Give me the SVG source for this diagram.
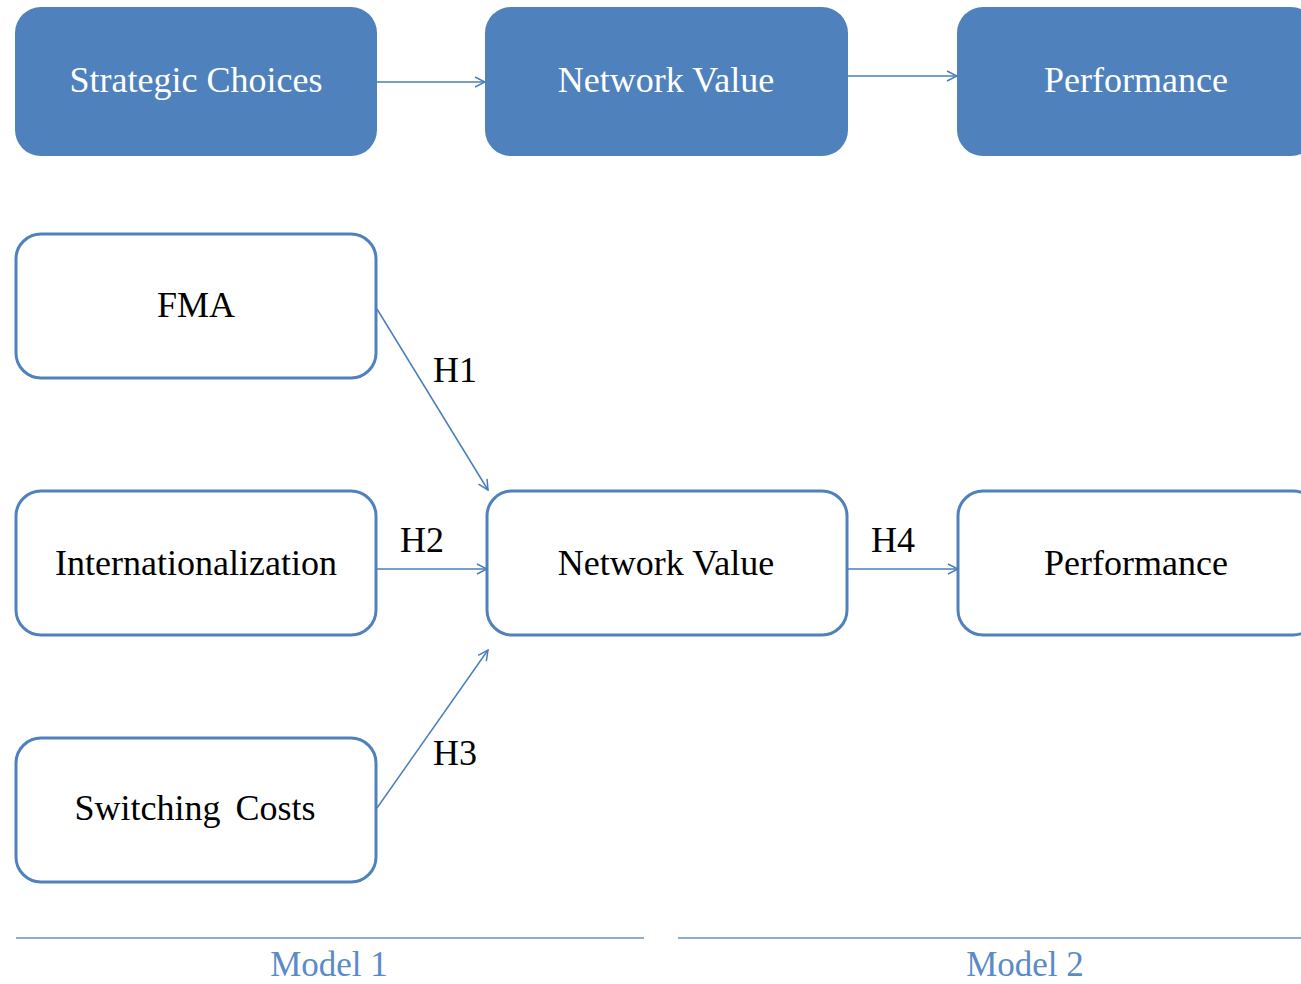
<svg xmlns="http://www.w3.org/2000/svg" width="1301" height="984" viewBox="0 0 1301 984">
  <style>
    .solid { fill: #4F81BD; stroke: none; }
    .outline { fill: #FFFFFF; stroke: #4F81BD; stroke-width: 3; }
    .label { font-family: "Liberation Serif", "Times New Roman", serif; font-size: 36px; text-anchor: middle; }
    .light { fill: #FFFFFF; }
    .dark { fill: #000000; }
    .hyp { font-family: "Liberation Serif", "Times New Roman", serif; font-size: 36px; fill: #000000; }
    .model { font-family: "Liberation Serif", "Times New Roman", serif; font-size: 35px; fill: #5B8BC6; text-anchor: middle; }
    .conn { fill: none; stroke: #4A7EBB; stroke-width: 1.5; marker-end: url(#open-arrow); }
    .rule { stroke: #8EAAD6; stroke-width: 2; }
  </style>
  <defs>
    <marker id="open-arrow" viewBox="0 0 12 12" refX="11" refY="6" markerWidth="12" markerHeight="12" markerUnits="userSpaceOnUse" orient="auto">
      <path d="M1,1 L11,6 L1,11" fill="none" stroke="#4A7EBB" stroke-width="1.5"/>
    </marker>
  </defs>

  <rect width="1301" height="984" fill="#FFFFFF"/>

  <!-- overview row -->
  <g id="top-strategic-choices">
    <rect class="solid" x="15" y="7" width="362" height="149" rx="26"/>
    <text class="label light" x="196" y="92">Strategic Choices</text>
  </g>
  <g id="top-network-value">
    <rect class="solid" x="485" y="7" width="363" height="149" rx="26"/>
    <text class="label light" x="666" y="92">Network Value</text>
  </g>
  <g id="top-performance">
    <rect class="solid" x="957" y="7" width="360" height="149" rx="26"/>
    <text class="label light" x="1136" y="92">Performance</text>
  </g>

  <!-- hypothesis model -->
  <g id="fma">
    <rect class="outline" x="16" y="234" width="360" height="144" rx="25"/>
    <text class="label dark" x="196" y="317">FMA</text>
  </g>
  <g id="internationalization">
    <rect class="outline" x="16" y="491" width="360" height="144" rx="25"/>
    <text class="label dark" x="196" y="575">Internationalization</text>
  </g>
  <g id="switching-costs">
    <rect class="outline" x="16" y="738" width="360" height="144" rx="25"/>
    <text class="label dark" x="195" y="820" word-spacing="6">Switching Costs</text>
  </g>
  <g id="network-value">
    <rect class="outline" x="487" y="491" width="360" height="144" rx="25"/>
    <text class="label dark" x="666" y="575">Network Value</text>
  </g>
  <g id="performance">
    <rect class="outline" x="958" y="491" width="360" height="144" rx="25"/>
    <text class="label dark" x="1136" y="575">Performance</text>
  </g>

  <!-- connectors -->
  <g id="connectors">
    <line class="conn" x1="377" y1="82" x2="485" y2="82"/>
    <line class="conn" x1="848" y1="76" x2="957" y2="76"/>
    <line class="conn" x1="377" y1="309" x2="488" y2="490"/>
    <line class="conn" x1="377" y1="569" x2="487" y2="569"/>
    <line class="conn" x1="377" y1="808" x2="488" y2="650"/>
    <line class="conn" x1="847" y1="569" x2="958" y2="569"/>
  </g>

  <!-- hypothesis labels -->
  <text class="hyp" x="433" y="382">H1</text>
  <text class="hyp" x="400" y="552">H2</text>
  <text class="hyp" x="433" y="765">H3</text>
  <text class="hyp" x="871" y="552">H4</text>

  <!-- model captions -->
  <line class="rule" x1="16" y1="938" x2="644" y2="938"/>
  <line class="rule" x1="678" y1="938" x2="1301" y2="938"/>
  <text class="model" x="329" y="976">Model 1</text>
  <text class="model" x="1025" y="976">Model 2</text>
</svg>
